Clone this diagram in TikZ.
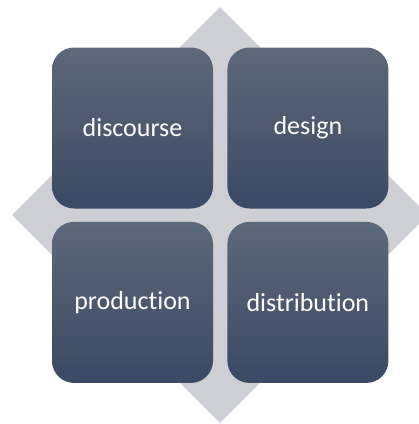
\documentclass[tikz,border=0pt]{standalone}
\usepackage{fontspec}
\setmainfont{Carlito}[Ligatures=NoCommon]
\usetikzlibrary{positioning,shapes.geometric}

\definecolor{backgray}{HTML}{CDCFD4}
\definecolor{tiletop}{HTML}{5D6879}
\definecolor{tilemid}{HTML}{42516B}
\definecolor{tilebottom}{HTML}{3A4964}

\begin{document}
\begin{tikzpicture}[x=1pt,y=-1pt,
	tile/.style={rounded corners=22pt, minimum size=161pt, inner sep=0pt,
		top color=tiletop, middle color=tilemid, bottom color=tilebottom,
		text=white, font=\fontsize{26}{30}\selectfont}]
\useasboundingbox (0,0) rectangle (419,424);
\clip (0,0) rectangle (419,424);
% grey diamond behind the tiles
\node[diamond, fill=backgray, minimum size=416pt, inner sep=0pt] (back) at (220,215) {};
% the four tiles
\node[tile] (discourse) at (132.5,128) {discourse};
\node[tile, right=14pt of discourse] (design) {design};
\node[tile, below=13pt of discourse] (production) {production};
\node[tile, right=14pt of production] (distribution) {distribution};
\end{tikzpicture}
\end{document}
